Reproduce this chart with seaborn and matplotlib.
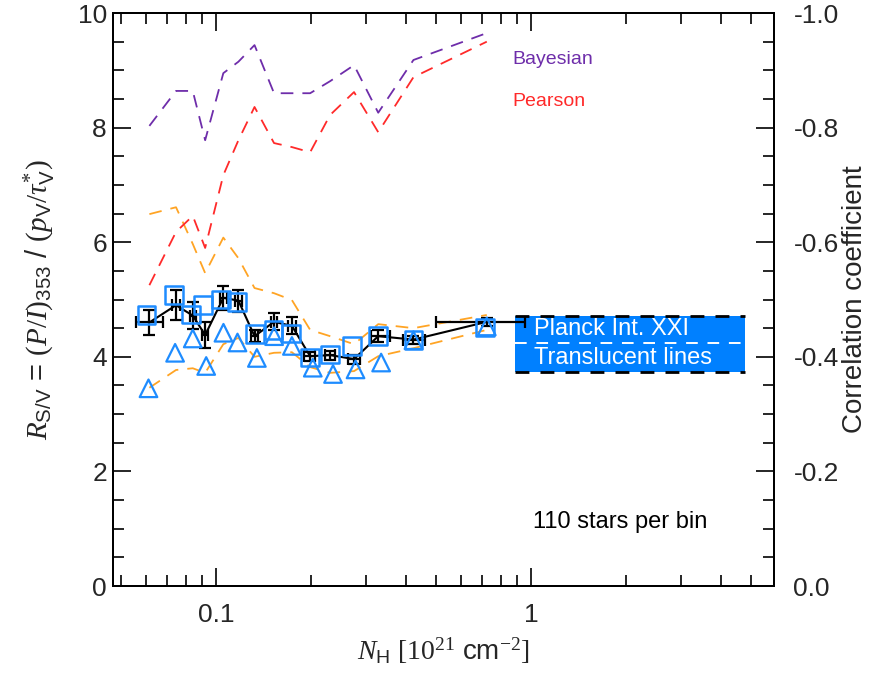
import numpy as np
import pandas as pd
import matplotlib
matplotlib.use("Agg")
import matplotlib.pyplot as plt
from matplotlib.ticker import LogLocator, FixedLocator, FuncFormatter, MultipleLocator
import seaborn as sns

# --- binned column density (black points, 110 stars per bin) ---
nh = [0.0614, 0.0746, 0.0843, 0.0923, 0.1054, 0.1177, 0.1324, 0.1527,
      0.1740, 0.1988, 0.2300, 0.2740, 0.3270, 0.4230, 0.7230]
nh_lo = [0.0555, 0.0725, 0.0825, 0.0905, 0.1030, 0.1150, 0.1290, 0.1490,
         0.1695, 0.1900, 0.2210, 0.2630, 0.3100, 0.3920, 0.4990]
nh_hi = [0.0676, 0.0770, 0.0862, 0.0945, 0.1080, 0.1205, 0.1360, 0.1565,
         0.1790, 0.2060, 0.2390, 0.2860, 0.3560, 0.4600, 0.9570]
rsv = [4.60, 4.90, 4.72, 4.38, 5.03, 4.98, 4.36, 4.61,
       4.54, 4.01, 4.03, 3.96, 4.36, 4.30, 4.61]
rsv_err = [0.22, 0.26, 0.23, 0.22, 0.21, 0.19, 0.10, 0.15,
           0.15, 0.08, 0.08, 0.08, 0.10, 0.07, 0.07]

# --- alternative estimators (open squares / open triangles) ---
sq_nh = [0.0602, 0.0736, 0.0831, 0.0908, 0.1035, 0.1163, 0.1330, 0.1520,
         0.1727, 0.1988, 0.2300, 0.2700, 0.3260, 0.4230, 0.7150]
sq_rsv = [4.73, 5.08, 4.74, 4.90, 5.00, 4.96, 4.40, 4.47,
          4.41, 3.99, 4.04, 4.19, 4.36, 4.29, 4.51]
tri_nh = [0.0610, 0.0741, 0.0843, 0.0930, 0.1055, 0.1169, 0.1347, 0.1528,
          0.1740, 0.2027, 0.2350, 0.2770, 0.3340, 0.4230, 0.7230]
tri_rsv = [3.45, 4.07, 4.32, 3.84, 4.42, 4.25, 3.98, 4.36,
           4.19, 3.81, 3.70, 3.78, 3.90, 4.29, 4.53]

# --- envelope (orange dashed) ---
env_hi = [6.49, 6.61, 5.97, 5.46, 6.08, 5.72, 5.20, 5.11,
          4.99, 4.47, 4.36, 4.22, 4.57, 4.50, 4.73]
env_lo = [3.46, 3.77, 3.80, 3.72, 4.22, 4.33, 4.00, 4.07,
          4.08, 3.82, 3.72, 3.75, 4.01, 4.15, 4.47]

# --- correlation coefficients (right axis) ---
corr_bayes = [-0.803, -0.864, -0.864, -0.778, -0.895, -0.915, -0.944, -0.860,
              -0.860, -0.860, -0.881, -0.909, -0.826, -0.918, -0.965]
corr_pearson = [-0.525, -0.618, -0.646, -0.590, -0.717, -0.778, -0.836, -0.773,
                -0.766, -0.757, -0.822, -0.862, -0.792, -0.888, -0.950]

# --- Planck Int. XXI translucent-lines range ---
planck_nh = [0.89, 4.78]
planck_lo, planck_mid, planck_hi = 3.73, 4.24, 4.72

x_ticks = [0.1, 1]
x_ticklabels = ["0.1", "1"]

sns.set_style("ticks")
plt.rcParams.update({
    "font.family": ["Liberation Sans", "DejaVu Sans"],
    "mathtext.fontset": "custom",
    "mathtext.rm": "Liberation Serif",
    "mathtext.it": "Liberation Serif:italic",
    "mathtext.sf": "Liberation Sans",
    "axes.linewidth": 1.4,
    "axes.unicode_minus": False,
})

fig = plt.figure(figsize=(8.75, 6.81), dpi=100)
ax = fig.add_axes([0.1286, 0.1395, 0.7560, 0.8414])
ax2 = ax.twinx()

C_BLUE = "#1E8CFF"
C_BOX = "#0080FF"
C_ORANGE = "#FFA424"
C_RED = "#FF2A2A"
C_PURPLE = "#6E2DAA"

dash = (7, 5)

df = pd.DataFrame({"nh": nh, "rsv": rsv, "hi": env_hi, "lo": env_lo,
                   "bayes": corr_bayes, "pearson": corr_pearson})

# envelope
for col in ["hi", "lo"]:
    sns.lineplot(data=df, x="nh", y=col, ax=ax, color=C_ORANGE, lw=1.3,
                 sort=False, estimator=None, zorder=2)
    ax.lines[-1].set_dashes(dash)

# correlation curves on the right axis
sns.lineplot(data=df, x="nh", y="bayes", ax=ax2, color=C_PURPLE, lw=1.3,
             sort=False, estimator=None)
ax2.lines[-1].set_dashes(dash)
sns.lineplot(data=df, x="nh", y="pearson", ax=ax2, color=C_RED, lw=1.3,
             sort=False, estimator=None)
ax2.lines[-1].set_dashes(dash)

# Planck translucent-lines band
ax.fill_between(planck_nh, planck_lo, planck_hi, color=C_BOX, lw=0, zorder=3)
ax.plot(planck_nh, [planck_hi] * 2, color="black", lw=2.0, dashes=(5, 4), zorder=4)
ax.plot(planck_nh, [planck_lo] * 2, color="black", lw=2.0, dashes=(5, 4), zorder=4)
ax.plot(planck_nh, [planck_mid] * 2, color="white", lw=1.4, dashes=(6, 5), zorder=4)
ax.text(1.02, (planck_mid + planck_hi) / 2, "Planck Int. XXI", color="white",
        fontsize=17, va="center", ha="left", zorder=5)
ax.text(1.02, (planck_lo + planck_mid) / 2, "Translucent lines", color="white",
        fontsize=17, va="center", ha="left", zorder=5)

# binned values
sns.lineplot(data=df, x="nh", y="rsv", ax=ax, color="black", lw=1.5,
             sort=False, estimator=None, zorder=5)
xerr = [np.array(nh) - np.array(nh_lo), np.array(nh_hi) - np.array(nh)]
ax.errorbar(nh, rsv, yerr=rsv_err, xerr=xerr, fmt="none", ecolor="black",
            elinewidth=1.6, capsize=4.5, capthick=1.6, zorder=6)

sns.scatterplot(x=sq_nh, y=sq_rsv, ax=ax, marker="s", s=160,
                facecolor="none", edgecolor=C_BLUE, linewidth=1.8, zorder=7)
sns.scatterplot(x=tri_nh, y=tri_rsv, ax=ax, marker="^", s=160,
                facecolor="none", edgecolor=C_BLUE, linewidth=1.6, zorder=7)

# axes setup
ax.set_xscale("log")
ax.set_xlim(0.0469, 5.9)
ax.set_ylim(0, 10)
ax2.set_ylim(0, -1)

ax.xaxis.set_major_locator(FixedLocator(x_ticks))
ax.xaxis.set_major_formatter(FuncFormatter(lambda v, p: dict(zip(x_ticks, x_ticklabels)).get(v, "")))
ax.xaxis.set_minor_locator(LogLocator(base=10, subs=np.arange(2, 10), numticks=20))
ax.xaxis.set_minor_formatter(FuncFormatter(lambda v, p: ""))
ax.yaxis.set_major_locator(MultipleLocator(2))
ax.yaxis.set_minor_locator(MultipleLocator(0.5))
ax2.yaxis.set_major_locator(MultipleLocator(0.2))
ax2.yaxis.set_minor_locator(MultipleLocator(0.05))
ax2.yaxis.set_major_formatter(FuncFormatter(lambda v, p: f"{v:.1f}" if abs(v) > 1e-9 else "0.0"))

ax.tick_params(which="both", direction="in", top=True, right=False, width=1.4,
               labelsize=19)
ax.tick_params(which="major", length=13)
ax.tick_params(which="minor", length=8)
ax.tick_params(axis="y", pad=4)
ax.tick_params(axis="x", pad=12)
ax2.tick_params(which="both", direction="in", width=1.4, labelsize=19, pad=14)
ax2.tick_params(which="major", length=13)
ax2.tick_params(which="minor", length=8)

ax.set_xlabel(r"$N_{\mathsf{H}}\ [10^{21}$ cm$^{-2}]$", fontsize=20, labelpad=6)
ax.set_ylabel(r"$R_{\mathsf{S/V}}$ = $(P/I)_{\mathsf{353}}$ / $(p_{\mathsf{V}}/\tau^{*}_{\mathsf{V}})$",
              fontsize=21, labelpad=14)
ax2.set_ylabel("Correlation coefficient", fontsize=20, labelpad=2)

for a in (ax, ax2):
    for s in a.spines.values():
        s.set_visible(True)
        s.set_linewidth(1.4)
        s.set_color("black")

ax.text(0.604, 0.918, "Bayesian", transform=ax.transAxes, color=C_PURPLE,
        fontsize=14, va="center", ha="left")
ax.text(0.604, 0.846, "Pearson", transform=ax.transAxes, color=C_RED,
        fontsize=14, va="center", ha="left")
ax.text(0.636, 0.112, "110 stars per bin", transform=ax.transAxes, color="black",
        fontsize=17, va="center", ha="left")

fig.savefig("out.png", dpi=100)
